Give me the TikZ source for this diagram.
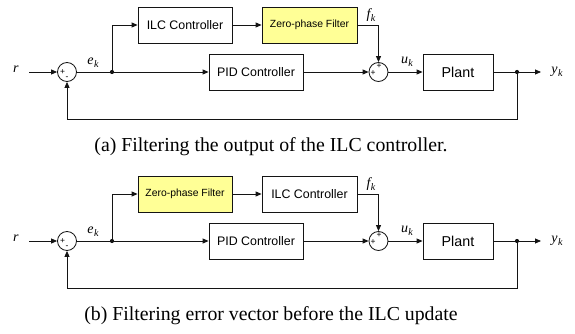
\documentclass[tikz,border=0pt]{standalone}
\usepackage{fontspec}
\setmainfont{Liberation Serif}
\newfontfamily\blockfont{Liberation Sans}
\usetikzlibrary{arrows.meta,calc}

% signal name with an italic subscript
\newcommand\signame[2]{{\fontsize{14}{16}\selectfont\itshape #1\kern0.03em\raisebox{-0.45ex}{\fontsize{10}{12}\selectfont #2}}}

\definecolor{filteryellow}{RGB}{255,255,150}
\definecolor{wire}{RGB}{20,20,20}

\tikzset{
  block/.style={draw=wire, line width=0.8pt, rectangle, minimum height=36pt,
    inner sep=0pt, font=\blockfont\fontsize{12.4}{14}\selectfont},
  filterblock/.style={block, fill=filteryellow, font=\blockfont\fontsize{10.4}{12}\selectfont},
  plantblock/.style={block, font=\blockfont\fontsize{14.3}{16}\selectfont},
  sumnode/.style={draw=wire, line width=0.8pt, circle, minimum size=19pt, inner sep=0pt},
  branch/.style={circle, fill=wire, inner sep=0pt, minimum size=4.2pt},
  sgn/.style={font=\blockfont\fontsize{8.5}{9}\selectfont, inner sep=0pt},
  wireline/.style={draw=wire, line width=0.8pt},
  flow/.style={wireline, -{Triangle[length=6pt,width=5pt]}},
  caption/.style={font=\fontsize{19.8}{22}\selectfont, inner sep=0pt}
}

\begin{document}
\begin{tikzpicture}[x=1pt, y=-1pt]
\useasboundingbox (0,0) rectangle (575,334);

% ---------------- (a) filter after the ILC controller ----------------
\begin{scope}
  \node[block, minimum width=94pt] (a1) at (185,25) {ILC Controller};
  \node[filterblock, minimum width=95pt] (a2) at (309.5,25) {Zero-phase Filter};
  \node[block, minimum width=94pt] (apid) at (256,72) {PID Controller};
  \node[plantblock, minimum width=70pt] (aplant) at (458,72) {Plant};
  \node[sumnode] (as1) at (67,72) {};
  \node[sumnode] (as2) at (378.5,72) {};
  \node[sgn] at (62.5,72) {+};
  \node[sgn] at (67,78.5) {-};
  \node[sgn] at (379,66.5) {+};
  \node[sgn] at (373,73) {+};
  \node[branch] (aj1) at (112,72) {};
  \node[branch] (aj2) at (517,72) {};
  \node (ar) at (16,71) {\signame{r}{}};
  \coordinate (ain) at (29,72);
  \coordinate (aout) at (541,72);
  \coordinate (afb) at (517,119);
  \node (ae) at (93,63) {\signame{e}{k}};
  \node (af) at (371,15) {\signame{f}{k}};
  \node (au) at (407,62) {\signame{u}{k}};
  \node (ay) at (557,72) {\signame{y}{k}};

  \draw[flow] (ain) -- (as1.west);
  \draw[wireline] (as1.east) -- (aj1);
  \draw[flow] (aj1) -- (apid.west);
  \draw[flow] (aj1) |- (a1.west);
  \draw[flow] (a1.east) -- (a2.west);
  \draw[flow] (a2.east) -| (as2.north);
  \draw[flow] (apid.east) -- (as2.west);
  \draw[flow] (as2.east) -- (aplant.west);
  \draw[wireline] (aplant.east) -- (aj2);
  \draw[flow] (aj2) -- (aout);
  \draw[flow] (aj2) -- (afb) -| (as1.south);

  \node[caption] (acap) at (271,147) {(a) Filtering the output of the ILC controller.};
\end{scope}

% ---------------- (b) filter before the ILC controller ----------------
\begin{scope}[yshift=-169pt]
  \node[filterblock, minimum width=94pt] (b1) at (185,25) {Zero-phase Filter};
  \node[block, minimum width=95pt] (b2) at (309.5,25) {ILC Controller};
  \node[block, minimum width=94pt] (bpid) at (256,72) {PID Controller};
  \node[plantblock, minimum width=70pt] (bplant) at (458,72) {Plant};
  \node[sumnode] (bs1) at (67,72) {};
  \node[sumnode] (bs2) at (378.5,72) {};
  \node[sgn] at (62.5,72) {+};
  \node[sgn] at (67,78.5) {-};
  \node[sgn] at (379,66.5) {+};
  \node[sgn] at (373,73) {+};
  \node[branch] (bj1) at (112,72) {};
  \node[branch] (bj2) at (517,72) {};
  \node (br) at (16,71) {\signame{r}{}};
  \coordinate (bin) at (29,72);
  \coordinate (bout) at (541,72);
  \coordinate (bfb) at (517,119);
  \node (be) at (93,63) {\signame{e}{k}};
  \node (bf) at (371,15) {\signame{f}{k}};
  \node (bu) at (407,62) {\signame{u}{k}};
  \node (by) at (557,72) {\signame{y}{k}};

  \draw[flow] (bin) -- (bs1.west);
  \draw[wireline] (bs1.east) -- (bj1);
  \draw[flow] (bj1) -- (bpid.west);
  \draw[flow] (bj1) |- (b1.west);
  \draw[flow] (b1.east) -- (b2.west);
  \draw[flow] (b2.east) -| (bs2.north);
  \draw[flow] (bpid.east) -- (bs2.west);
  \draw[flow] (bs2.east) -- (bplant.west);
  \draw[wireline] (bplant.east) -- (bj2);
  \draw[flow] (bj2) -- (bout);
  \draw[flow] (bj2) -- (bfb) -| (bs1.south);

  \node[caption] (bcap) at (271,147) {(b) Filtering error vector before the ILC update};
\end{scope}
\end{tikzpicture}
\end{document}
